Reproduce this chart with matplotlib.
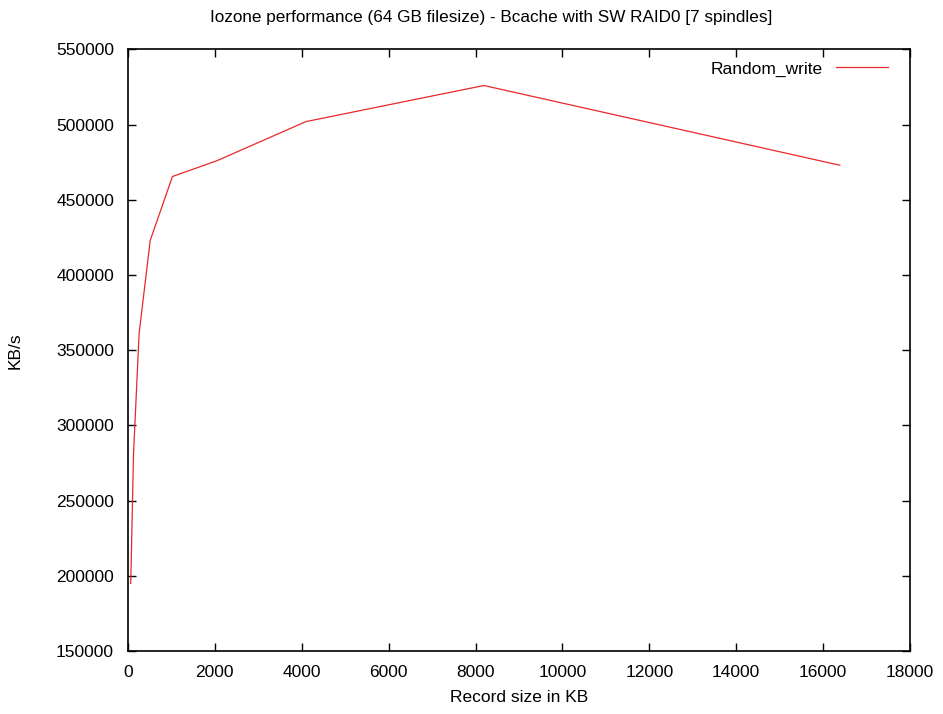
import matplotlib
matplotlib.use("Agg")
import matplotlib.pyplot as plt

plt.rcParams['font.family'] = ['Liberation Sans', 'DejaVu Sans']

# iozone random write results, record size (KB) vs throughput (KB/s)
record_kb = [64, 128, 256, 512, 1024, 2048, 4096, 8192, 16384]
random_write = [195000, 281000, 361000, 423000, 465500, 476000, 502000, 526000, 473000]

fig = plt.figure(figsize=(9.43, 7.14), dpi=100)
ax = fig.add_axes([0.1357, 0.0882, 0.8293, 0.8426])

ax.plot(record_kb, random_write, color='#e8282a', linewidth=0.9, label='Random_write')

ax.set_xlim(0, 18000)
ax.set_ylim(150000, 550000)
ax.set_xticks(range(0, 18001, 2000))
ax.set_yticks(range(150000, 550001, 50000))
ax.tick_params(direction='in', length=6, width=1, top=True, right=True,
               labelsize=12.5, pad=10, colors='black')
for s in ax.spines.values():
    s.set_linewidth(1.2)

ax.set_xlabel('Record size in KB', fontsize=12.5, labelpad=7)
ax.set_ylabel('KB/s', fontsize=12.5, labelpad=24)
fig.text(0.521, 0.975, 'Iozone performance (64 GB filesize) - Bcache with SW RAID0 [7 spindles]',
         ha='center', va='center', fontsize=12.3)

ax.legend(loc='upper right', bbox_to_anchor=(0.996, 1.012), frameon=False,
          markerfirst=False, fontsize=12.5, handlelength=3.0,
          borderaxespad=0.7, handletextpad=0.75)

fig.savefig('out.png', dpi=100)
